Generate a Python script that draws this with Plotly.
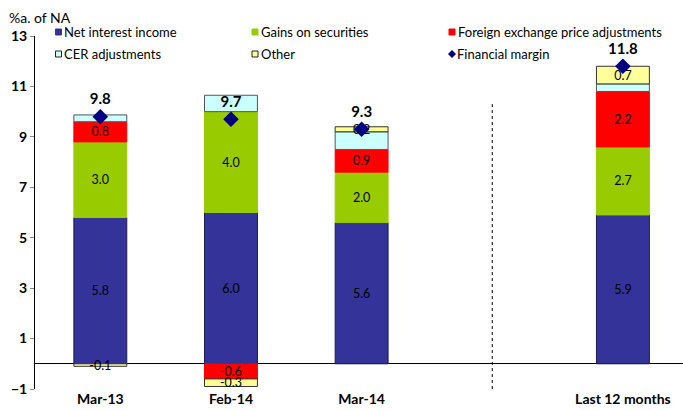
import plotly.graph_objects as go

# Financial margin components, % annualised of net assets
periods = ["Mar-13", "Feb-14", "Mar-14", "Last 12 months"]
spacer = " "  # empty slot before the last-12-months bar
net_interest = [5.8, 6.0, 5.6, 5.9]
securities = [3.0, 4.0, 2.0, 2.7]
fx_adjust = [0.8, -0.6, 0.9, 2.2]
cer_adjust = [0.27, 0.65, 0.7, 0.3]
other = [-0.1, -0.3, 0.2, 0.7]
financial_margin = [9.8, 9.7, 9.3, 11.8]

FONT = "Lato"
x_order = periods[:3] + [spacer] + periods[3:]

# figure geometry (pixels)
W, H = 683, 410
ML, MR, MT, MB = 35, 0, 36, 21
PW, PH = W - ML - MR, H - MT - MB


def px_x(px):
    return (px - ML) / PW


def px_y(py):
    return (H - MB - py) / PH


fig = go.Figure()
label_font = dict(family=FONT, size=12.5, color="#000000")


def add_component(name, values, fill, outline, labelled):
    text = [f"{v:.1f}" for v in values] if labelled else None
    fig.add_trace(go.Bar(
        name=name, x=periods, y=values,
        marker=dict(color=fill, line=dict(color=outline, width=1)),
        width=0.405,
        text=text, textposition="inside" if labelled else "none",
        insidetextanchor="middle", constraintext="none",
        textfont=label_font, insidetextfont=label_font, outsidetextfont=label_font,
        hoverinfo="name+y", showlegend=False,
    ))


components = [
    ("Net interest income", net_interest, "#333399", "#1c1c4a", True),
    ("Gains on securities", securities, "#99CC00", "#99CC00", True),
    ("Foreign exchange price adjustments", fx_adjust, "#FF0000", "#FF0000", True),
    ("CER adjustments", cer_adjust, "#CCFFFF", "#555555", False),
    ("Other", other, "#FFFF99", "#333333", True),
]
for comp in components:
    add_component(*comp)

fig.add_trace(go.Scatter(
    name="Financial margin", x=periods, y=financial_margin,
    mode="markers+text",
    marker=dict(symbol="diamond", size=12, color="#000080"),
    text=[f"{v:.1f}" for v in financial_margin],
    textposition="top center",
    textfont=dict(family=FONT, size=15, color="black", weight="bold"),
    cliponaxis=False, showlegend=False,
))

# dotted separator between the monthly bars and the 12-month total
fig.add_shape(type="line", xref="x", yref="y",
              x0=3, x1=3, y0=-1, y1=10.3,
              line=dict(color="black", width=1, dash="dot"))

# key: three columns, two rows above the plot
col_x = [58.5, 255, 452]
row_y = [32, 54]
key_items = [(c[0], c[2], c[3]) for c in components] + [("Financial margin", "#000080", None)]
for i, (label, fill, outline) in enumerate(key_items):
    cx, cy = col_x[i % 3], row_y[i // 3]
    if outline is None:
        d = 4
        path = (f"M {px_x(cx - d)} {px_y(cy)} L {px_x(cx)} {px_y(cy - d)} "
                f"L {px_x(cx + d)} {px_y(cy)} L {px_x(cx)} {px_y(cy + d)} Z")
        fig.add_shape(type="path", xref="paper", yref="paper", path=path,
                      fillcolor=fill, line=dict(width=0))
    else:
        s = 3
        fig.add_shape(type="rect", xref="paper", yref="paper",
                      x0=px_x(cx - s), x1=px_x(cx + s),
                      y0=px_y(cy + s), y1=px_y(cy - s),
                      fillcolor=fill, line=dict(color="#222222" if i >= 3 else fill, width=1))
    fig.add_annotation(text=label, xref="paper", yref="paper",
                       x=px_x(cx + 4.5), y=px_y(cy), xanchor="left", yanchor="middle",
                       showarrow=False, borderpad=0,
                       font=dict(family=FONT, size=13, color="black"))

fig.add_annotation(text="%a. of NA", xref="paper", yref="paper",
                   x=px_x(8), y=px_y(17), xanchor="left", yanchor="middle",
                   showarrow=False, borderpad=0,
                   font=dict(family=FONT, size=14, color="black"))

fig.update_layout(
    width=W, height=H,
    margin=dict(l=ML, r=MR, t=MT, b=MB),
    barmode="relative",
    plot_bgcolor="white", paper_bgcolor="white",
    font=dict(family=FONT, size=12, color="black"),
    showlegend=False,
    xaxis=dict(categoryorder="array", categoryarray=x_order,
               range=[-0.5, 4.46], showline=False, showgrid=False,
               zeroline=False, ticks="",
               tickfont=dict(family=FONT, size=14, color="black", weight="bold")),
    yaxis=dict(range=[-1, 13], tick0=-1, dtick=2, showgrid=False,
               showline=True, linecolor="black", linewidth=1,
               ticks="outside", ticklen=4, tickcolor="#888888",
               zeroline=True, zerolinecolor="black", zerolinewidth=1,
               tickfont=dict(family=FONT, size=14, color="black", weight="bold")),
)

fig.write_html("out.html")
